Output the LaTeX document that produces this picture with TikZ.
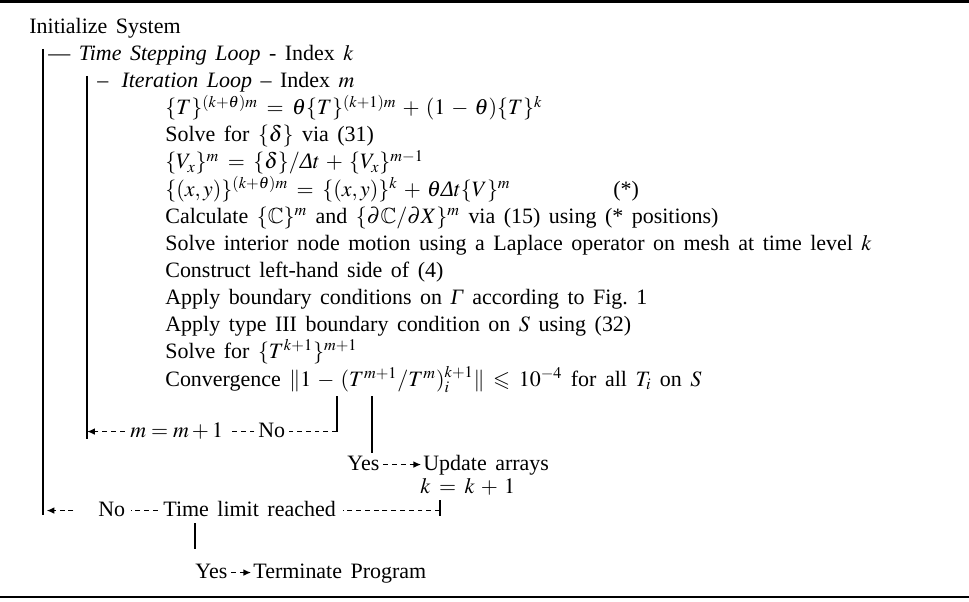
\documentclass[tikz,border=0pt]{standalone}
\usepackage{amssymb}
\usepackage{mathptmx}
\usepackage{fontspec}
\setmainfont{Liberation Serif}[WordSpace=1.55]
\usetikzlibrary{arrows.meta}
\newcommand{\itDelta}{\mbox{\itshape Δ}}
\newcommand{\widemath}{\medmuskip=5mu\relax\thickmuskip=7mu\relax}
\tikzset{
  txt/.style={anchor=base west,inner sep=0pt,
    font=\fontsize{12.5}{15}\selectfont\widemath},
  flowtxt/.style={txt,text height=6.2pt,text depth=0pt},
  loopbar/.style={line width=1.1pt},
  flow/.style={line width=0.9pt,dash pattern=on 2.8pt off 2.2pt},
  flowarrow/.style={flow,-{Latex[length=4.5pt,width=3.8pt]}},
}

\begin{document}
\begin{tikzpicture}[x=0.02cm,y=-0.02cm]
  \useasboundingbox (0,0) rectangle (969,601);
  \draw[line width=1.6pt] (0,1.5) -- (969,1.5);
  \draw[line width=1.3pt] (0,597) -- (969,597);

  % loop headers
  \node[txt] (init) at (29,34) {Initialize System};
  \node[txt] (tloop) at (48,61) {--- \textit{Time Stepping Loop} - Index $k$};
  \node[txt] (iloop) at (97,88) {--\hspace{0.6em}\textit{Iteration Loop} -- Index $m$};
  \coordinate (otop) at (43,49);
  \coordinate (obot) at (43,515);
  \coordinate (itop) at (87,76);
  \coordinate (ibot) at (87,439);
  \draw[loopbar] (otop) -- (obot);
  \draw[loopbar] (itop) -- (ibot);

  % iteration steps
  \node[txt] (eqT) at (165,115) {$\{T\}^{(k+\theta)m}=\theta\{T\}^{(k+1)m}+(1-\theta)\{T\}^{k}$};
  \node[txt] (solved) at (165,142) {Solve for $\{\delta\}$ via (31)};
  \node[txt] (eqV) at (165,169) {$\{V_x\}^{m}=\{\delta\}/\itDelta t+\{V_x\}^{m-1}$};
  \node[txt] (eqX) at (165,196) {$\{(x,y)\}^{(k+\theta)m}=\{(x,y)\}^{k}+\theta\itDelta t\{V\}^{m}$};
  \node[txt] (star) at (613,196) {(*)};
  \node[txt] (calc) at (165,223) {Calculate $\{\mathbb{C}\}^{m}$ and $\{\partial\mathbb{C}/\partial X\}^{m}$ via (15) using (* positions)};
  \node[txt] (lapl) at (165,250) {Solve interior node motion using a Laplace operator on mesh at time level $k$};
  \node[txt] (lhs) at (165,277) {Construct left-hand side of (4)};
  \node[txt] (bcG) at (165,304) {Apply boundary conditions on \textit{Γ} according to Fig.~1};
  \node[txt] (bcS) at (165,331) {Apply type III boundary condition on $S$ using (32)};
  \node[txt] (solveT) at (165,358) {Solve for $\{T^{k+1}\}^{m+1}$};
  \node[txt] (conv) at (165,386) {Convergence $\|1-(T^{m+1}/T^{m})_i^{k+1}\|\leqslant10^{-4}$ for all $T_i$ on $S$};

  % convergence test
  \coordinate (nobar) at (337,396);
  \coordinate (yesbar) at (372,396);
  \node[flowtxt,font=\fontsize{12.5}{15}\selectfont] (minc) at (130,437) {$m=m+1$};
  \node[flowtxt] (noM) at (258,437) {No};
  \node[flowtxt] (yesM) at (347,470) {Yes};
  \node[flowtxt] (upd) at (423,470) {Update arrays};
  \node[flowtxt] (kupd) at (420,493) {$k=k+1$};
  \draw[loopbar] (nobar) -- (nobar |- noM.east);
  \draw[flow,shorten >=2pt] (nobar |- noM.east) -- (noM.east);
  \draw[flow,shorten <=2pt,shorten >=3pt] (noM.west) -- (minc.east);
  \draw[flowarrow,shorten <=3pt] (minc.west) -- (ibot |- minc.west);
  \draw[loopbar,shorten >=3pt] (yesbar) -- (yesbar |- yesM.north);
  \draw[flowarrow,shorten <=2pt,shorten >=1pt] (yesM.east) -- (upd.west);

  % time limit test
  \node[flowtxt] (tlim) at (163,516) {Time limit reached};
  \node[flowtxt] (noT) at (98,516) {No};
  \node[flowtxt] (yesT) at (195,578) {Yes};
  \node[flowtxt] (term) at (253,578) {Terminate Program};
  \coordinate (tbar) at (440,500);
  \coordinate (tbarend) at (440,516);
  \draw[loopbar] (tbar) -- (tbarend);
  \draw[flow,shorten >=4pt] (tbar |- tlim.east) -- (tlim.east);
  \draw[flow,shorten <=3pt,shorten >=3pt] (tlim.west) -- (noT.east);
  \draw[flowarrow,shorten <=14pt,shorten >=2pt] (noT.west) -- (obot |- noT.west);
  \draw[loopbar,shorten <=4pt,shorten >=10pt] (yesT.north west |- tlim.south) -- (yesT.north west);
  \draw[flowarrow,shorten <=2pt,shorten >=1pt] (yesT.east) -- (term.west);
\end{tikzpicture}
\end{document}
